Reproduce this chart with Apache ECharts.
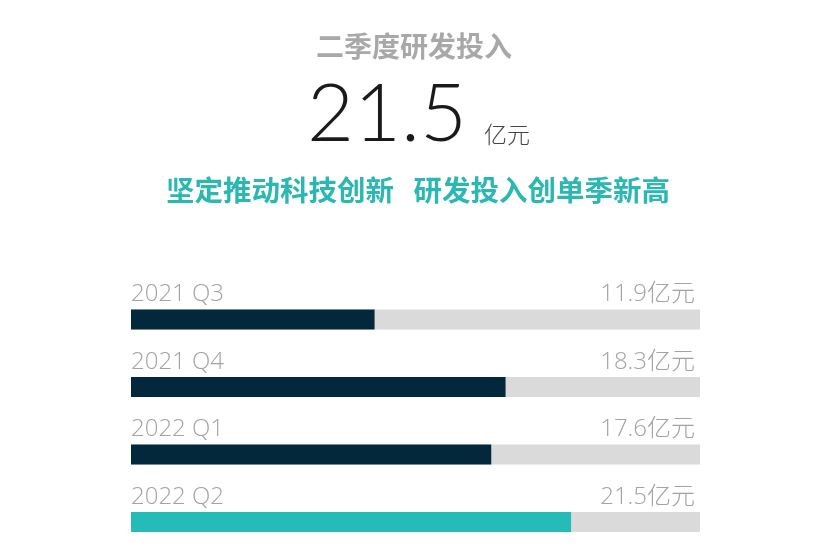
<!DOCTYPE html>
<html>
<head>
<meta charset="utf-8">
<script src="https://cdn.jsdelivr.net/npm/echarts@6/dist/echarts.min.js"></script>
<style>
html,body{margin:0;padding:0;background:#fff;}
#c{width:820px;height:559px;}
</style>
</head>
<body>
<div id="c"></div>
<script>
var categories = ['2021 Q3', '2021 Q4', '2022 Q1', '2022 Q2'];
var values = [11.9, 18.3, 17.6, 21.5];
var axisMax = 27.8;
var unit = '亿元';
var titleText = '二季度研发投入';
var subtitleText = '坚定推动科技创新   研发投入创单季新高';

var navy = '#03273b';
var teal = '#24bbb8';
var track = '#dadada';
var gray = '#a3a3a3';
var lightFont = '"Open Sans", "Noto Sans CJK SC", sans-serif';

var chart = echarts.init(document.getElementById('c'));
chart.setOption({
  animation: false,
  backgroundColor: '#fff',
  grid: { left: 131, right: 120, top: 285.75, bottom: 3.25, containLabel: false },
  xAxis: { type: 'value', min: 0, max: axisMax, show: false },
  yAxis: { type: 'category', data: categories, inverse: true, show: false },
  graphic: [
    { type: 'text', x: 414, y: 46,
      style: { text: titleText, fill: '#a8a8a8', font: 'bold 28px "Noto Sans CJK SC", sans-serif',
               textAlign: 'center', textVerticalAlign: 'middle' } },
    { type: 'text', x: 387, y: 115,
      style: { text: String(values[values.length - 1]), fill: '#1a1a1a', font: '300 81px Lato, sans-serif',
               textAlign: 'center', textVerticalAlign: 'middle' } },
    { type: 'text', x: 484, y: 134,
      style: { text: unit, fill: '#444', font: '300 23px "Noto Sans CJK SC", sans-serif',
               textAlign: 'left', textVerticalAlign: 'middle' } },
    { type: 'text', x: 418, y: 190,
      style: { text: subtitleText, fill: '#2bb7b2', font: 'bold 28.5px "Noto Sans CJK SC", sans-serif',
               textAlign: 'center', textVerticalAlign: 'middle' } }
  ],
  series: [
    {
      type: 'bar',
      name: 'track',
      data: categories.map(function () { return axisMax; }),
      barWidth: 20,
      barGap: '-100%',
      silent: true,
      z: 1,
      itemStyle: { color: track },
      label: {
        show: true,
        position: ['100%', -15],
        align: 'right',
        verticalAlign: 'middle',
        offset: [-5, 0],
        formatter: function (p) { return values[p.dataIndex] + unit; },
        fontFamily: lightFont,
        fontWeight: 300,
        fontSize: 24,
        color: gray
      }
    },
    {
      type: 'bar',
      name: 'value',
      data: values.map(function (v, i) {
        return { value: v, itemStyle: { color: i === values.length - 1 ? teal : navy } };
      }),
      barWidth: 20,
      barGap: '-100%',
      z: 2,
      label: {
        show: true,
        position: [0, -15],
        align: 'left',
        verticalAlign: 'middle',
        formatter: function (p) { return categories[p.dataIndex]; },
        fontFamily: lightFont,
        fontWeight: 300,
        fontSize: 24,
        color: gray
      }
    }
  ]
});
</script>
</body>
</html>
